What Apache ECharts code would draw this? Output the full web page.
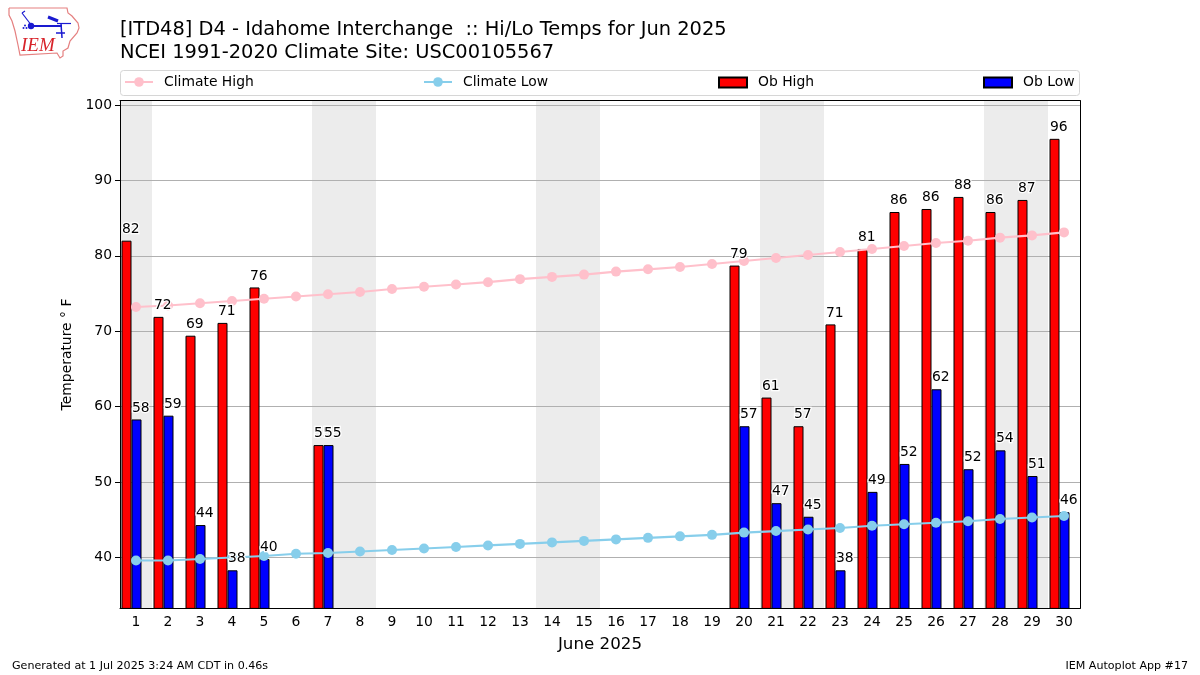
<!DOCTYPE html>
<html lang="en">
<head>
    <meta charset="UTF-8">
    <title>Hi/Lo Temps</title>
    <script src="https://cdn.jsdelivr.net/npm/echarts@6/dist/echarts.min.js"></script>
    <style>
        html, body { margin: 0; padding: 0; background: #fff; }
    </style>
</head>
<body>
<div id="main" style="width: 1200px;height:675px;"></div>
<script type="text/javascript">
    var days = ['1','2','3','4','5','6','7','8','9','10','11','12','13','14','15','16','17','18','19','20','21','22','23','24','25','26','27','28','29','30'];
    var climateHigh = [73.2,73.4,73.7,74.0,74.3,74.6,74.9,75.2,75.6,75.9,76.2,76.5,76.9,77.2,77.5,77.9,78.2,78.5,78.9,79.3,79.7,80.1,80.5,80.9,81.3,81.7,82.0,82.4,82.7,83.1];
    var climateLow = [39.6,39.6,39.8,40.0,40.2,40.5,40.6,40.8,41.0,41.2,41.4,41.6,41.8,42.0,42.2,42.4,42.6,42.8,43.0,43.3,43.5,43.7,43.9,44.2,44.4,44.6,44.8,45.1,45.3,45.5];
    // bar heights are not whole degrees, the printed labels are rounded
    var obHigh = [82.0,71.9,69.4,71.1,75.8,null,54.9,null,null,null,null,null,null,null,null,null,null,null,null,78.7,61.2,57.4,70.9,80.9,85.8,86.2,87.8,85.8,87.4,95.5];
    var obLow = [58.3,58.8,44.3,38.3,39.8,null,54.9,null,null,null,null,null,null,null,null,null,null,null,null,57.4,47.2,45.4,38.3,48.7,52.4,62.3,51.7,54.2,50.8,46.0];
    var obHighLabels = [82,72,69,71,76,null,55,null,null,null,null,null,null,null,null,null,null,null,null,79,61,57,71,81,86,86,88,86,87,96];
    var obLowLabels = [58,59,44,38,40,null,55,null,null,null,null,null,null,null,null,null,null,null,null,57,47,45,38,49,52,62,52,54,51,46];
    var weekendDays = ['1','7','8','14','15','21','22','28','29'];
    var yTicks = [40,50,60,70,80,90,100];
    var yMin = 33.25;
    var yMax = 100.57;

    var baseFont = 'DejaVu Sans';
    var weekendShade = [];
    for (var i = 0; i < days.length; i++) {
        weekendShade.push(weekendDays.indexOf(days[i]) >= 0 ? yMax : null);
    }

    function obLabelSeries(name, values, labels, dx) {
        return {
            name: name,
            type: 'scatter',
            data: values,
            symbolSize: 1,
            itemStyle: { color: 'transparent', opacity: 1 },
            z: 5,
            silent: true,
            label: {
                show: true,
                position: [dx, -18],
                color: '#000',
                fontFamily: baseFont,
                fontSize: 13.9,
                textBorderColor: '#fff',
                textBorderWidth: 2.5,
                formatter: function (p) { return String(labels[p.dataIndex]); }
            }
        };
    }

    function legendItem(name, left, height, icon) {
        var item = {
            data: [name],
            left: left,
            top: (icon ? 80.5 : 81) - height / 2,
            padding: 0,
            itemWidth: 28,
            itemHeight: height,
            selectedMode: false,
            z: 4,
            textStyle: { fontFamily: baseFont, fontSize: 13.9, color: '#000', padding: [0, 0, 0, 6] }
        };
        if (icon) {
            item.icon = icon;
        }
        return item;
    }

    var myChart = echarts.init(document.getElementById('main'));
    myChart.setOption({
        animation: false,
        backgroundColor: '#fff',
        title: [{
            text: '[ITD48] D4 - Idahome Interchange  :: Hi/Lo Temps for Jun 2025\nNCEI 1991-2020 Climate Site: USC00105567',
            left: 120,
            top: 19,
            padding: 0,
            textStyle: { fontFamily: baseFont, fontSize: 19.43, fontWeight: 'normal', color: '#000', lineHeight: 22.5 }
        }, {
            text: 'Generated at 1 Jul 2025 3:24 AM CDT in 0.46s',
            left: 12,
            top: 661,
            padding: 0,
            textStyle: { fontFamily: baseFont, fontSize: 11.1, fontWeight: 'normal', color: '#000' }
        }, {
            text: 'IEM Autoplot App #17',
            right: 12,
            top: 661,
            padding: 0,
            textStyle: { fontFamily: baseFont, fontSize: 11.1, fontWeight: 'normal', color: '#000' }
        }],
        legend: [
            legendItem('Climate High', 124, 12),
            legendItem('Climate Low', 423, 12),
            legendItem('Ob High', 718, 10, 'rect'),
            legendItem('Ob Low', 983, 10, 'rect')
        ],
        grid: { left: 120, right: 120, top: 100.6, bottom: 66.6 },
        xAxis: [{
            type: 'category',
            data: days,
            name: 'June 2025',
            nameLocation: 'middle',
            nameGap: 28,
            nameTextStyle: { fontFamily: baseFont, fontSize: 16.7, color: '#000' },
            z: 6,
            axisLine: { lineStyle: { color: '#000', width: 1 } },
            axisTick: { alignWithLabel: true, length: 5, lineStyle: { color: '#000', width: 1 } },
            axisLabel: { fontFamily: baseFont, fontSize: 13.9, color: '#000', margin: 7, interval: 0 },
            splitLine: { show: false }
        }, {
            type: 'category',
            data: days,
            position: 'top',
            z: 6,
            axisLine: { lineStyle: { color: '#000', width: 1 } },
            axisTick: { show: false },
            axisLabel: { show: false },
            splitLine: { show: false }
        }],
        yAxis: [{
            type: 'value',
            min: yMin,
            max: yMax,
            name: 'Temperature ° F',
            nameLocation: 'middle',
            nameGap: 46,
            nameTextStyle: { fontFamily: baseFont, fontSize: 13.9, color: '#000' },
            z: 1,
            axisLine: { show: true, lineStyle: { color: '#000', width: 1 } },
            axisTick: { show: true, length: 5, customValues: yTicks, lineStyle: { color: '#000', width: 1 } },
            axisLabel: { fontFamily: baseFont, fontSize: 13.9, color: '#000', margin: 8, customValues: yTicks },
            splitLine: { show: true, lineStyle: { color: '#b0b0b0', width: 1 } }
        }, {
            type: 'value',
            min: yMin,
            max: yMax,
            position: 'right',
            z: 6,
            axisLine: { show: true, lineStyle: { color: '#000', width: 1 } },
            axisTick: { show: false },
            axisLabel: { show: false },
            splitLine: { show: false }
        }],
        series: [{
            name: 'Weekend',
            type: 'bar',
            xAxisIndex: 1,
            data: weekendShade,
            barWidth: '100%',
            itemStyle: { color: '#ececec' },
            z: 0,
            silent: true
        }, {
            name: 'Ob High',
            type: 'bar',
            data: obHigh,
            barWidth: 10,
            barGap: 0,
            itemStyle: { color: '#ff0000', borderColor: '#000', borderWidth: 1 },
            z: 2
        }, {
            name: 'Ob Low',
            type: 'bar',
            data: obLow,
            barWidth: 10,
            barGap: 0,
            itemStyle: { color: '#0000ff', borderColor: '#000', borderWidth: 1 },
            z: 2
        }, {
            // empty slot, the original bars sit left of the day tick
            name: 'Spacer',
            type: 'bar',
            data: [],
            barWidth: 9,
            barGap: 0,
            silent: true
        }, {
            name: 'Climate High',
            type: 'line',
            data: climateHigh,
            symbol: 'circle',
            symbolSize: 10,
            showAllSymbol: true,
            lineStyle: { color: '#ffc0cb', width: 2.1 },
            itemStyle: { color: '#ffc0cb' },
            z: 3
        }, {
            name: 'Climate Low',
            type: 'line',
            data: climateLow,
            symbol: 'circle',
            symbolSize: 10,
            showAllSymbol: true,
            lineStyle: { color: '#87ceeb', width: 2.1 },
            itemStyle: { color: '#87ceeb' },
            z: 3
        },
            obLabelSeries('High labels', obHigh, obHighLabels, -13.5),
            obLabelSeries('Low labels', obLow, obLowLabels, -3.5)
        ],
        graphic: [
            // legend frame
            { type: 'rect', z: 0, shape: { x: 120.5, y: 70.5, width: 959, height: 25, r: 3 }, style: { fill: '#fff', stroke: '#d6d6d6', lineWidth: 1 } },
            // IEM logo
            { type: 'polyline', shape: { points: [[9,8],[67,8],[68,13],[72,16],[78,23],[79,28],[77,33],[70,41],[68,48],[63,51],[63,56],[60,58],[57,53],[20,55],[18,45],[15,31],[12,21],[9,15],[9,8]] }, style: { fill: 'none', stroke: '#e58080', lineWidth: 1.2 } },
            { type: 'polyline', shape: { points: [[32,26],[62,26]] }, style: { fill: 'none', stroke: '#1a1ad0', lineWidth: 2 } },
            { type: 'polyline', shape: { points: [[22,13],[32,26]] }, style: { fill: 'none', stroke: '#1a1ad0', lineWidth: 1.2 } },
            { type: 'polyline', shape: { points: [[22,13],[25,11]] }, style: { fill: 'none', stroke: '#1a1ad0', lineWidth: 1.2 } },
            { type: 'polyline', shape: { points: [[48,17],[58,21]] }, style: { fill: 'none', stroke: '#1a1ad0', lineWidth: 3 } },
            { type: 'polyline', shape: { points: [[57,23.5],[71,23.5]] }, style: { fill: 'none', stroke: '#1a1ad0', lineWidth: 1.2 } },
            { type: 'polyline', shape: { points: [[61,23],[62,38]] }, style: { fill: 'none', stroke: '#1a1ad0', lineWidth: 1.5 } },
            { type: 'polyline', shape: { points: [[56,33],[65,33]] }, style: { fill: 'none', stroke: '#1a1ad0', lineWidth: 1.5 } },
            { type: 'circle', shape: { cx: 31, cy: 26, r: 3.2 }, style: { fill: '#1a1ad0' } },
            { type: 'circle', shape: { cx: 23.5, cy: 28, r: 1 }, style: { fill: '#1a1ad0' } },
            { type: 'circle', shape: { cx: 26.5, cy: 28, r: 1 }, style: { fill: '#1a1ad0' } },
            { type: 'circle', shape: { cx: 25, cy: 25.5, r: 1 }, style: { fill: '#1a1ad0' } },
            { type: 'text', x: 21, y: 36, style: { text: 'IEM', fontFamily: 'Liberation Serif', fontStyle: 'italic', fontSize: 19, fill: '#d8232a' } }
        ]
    });
</script>
</body>
</html>
